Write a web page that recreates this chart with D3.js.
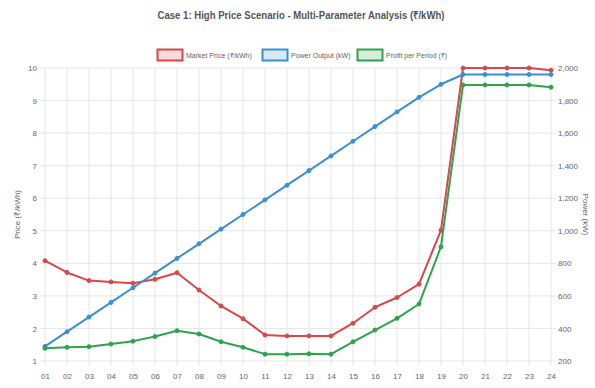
<!DOCTYPE html>
<html>
<head>
<meta charset="utf-8">
<script src="https://cdn.jsdelivr.net/npm/d3@7/dist/d3.min.js"></script>
<style>
  html, body { margin: 0; padding: 0; background: #fff; }
  svg { display: block; font-family: "Liberation Sans", Arial, sans-serif; }
</style>
</head>
<body>
<svg id="chart" width="595" height="388"></svg>
<script>
// Periods along the x axis
const periods = ["01","02","03","04","05","06","07","08","09","10","11","12",
                 "13","14","15","16","17","18","19","20","21","22","23","24"];

// Market price (₹/kWh), left axis
const marketPrice = [4.08, 3.72, 3.47, 3.43, 3.39, 3.51, 3.71, 3.18, 2.69, 2.3, 1.8, 1.77,
                     1.77, 1.77, 2.16, 2.65, 2.95, 3.36, 5.02, 10.0, 10.0, 10.0, 10.0, 9.93];

// Power output (kW), right axis
const powerOutput = [290, 380, 470, 560, 650, 740, 830, 920, 1010, 1100, 1190, 1280,
                     1370, 1460, 1550, 1640, 1730, 1820, 1900, 1960, 1960, 1960, 1960, 1960];

// Profit per period (₹), drawn against the left axis
const profit = [1.39, 1.42, 1.44, 1.52, 1.61, 1.75, 1.93, 1.83, 1.59, 1.42, 1.21, 1.21,
                1.22, 1.21, 1.59, 1.95, 2.31, 2.75, 4.51, 9.48, 9.48, 9.48, 9.48, 9.41];

const leftTicks = [1, 2, 3, 4, 5, 6, 7, 8, 9, 10];
const rightTicks = [200, 400, 600, 800, 1000, 1200, 1400, 1600, 1800, 2000];

const series = [
  { name: "Market Price (₹/kWh)", values: marketPrice, axis: "left",  color: "#d9474b", fill: "rgba(217,71,75,0.2)" },
  { name: "Power Output (kW)",    values: powerOutput, axis: "right", color: "#3b8fd3", fill: "rgba(59,143,211,0.2)" },
  { name: "Profit per Period (₹)", values: profit,     axis: "left",  color: "#2ea34f", fill: "rgba(46,163,79,0.2)" }
];

const svg = d3.select("#chart");
const plot = { left: 45, right: 551, top: 68, bottom: 361 };

const x = d3.scalePoint().domain(periods).range([plot.left, plot.right]);
const yLeft = d3.scaleLinear().domain([1, 10]).range([plot.bottom, plot.top]);
const yRight = d3.scaleLinear().domain([200, 2000]).range([plot.bottom, plot.top]);

const gridColor = "#e6e6e6";
const tickColor = "#666";

// Vertical grid lines at each period
svg.append("g")
  .selectAll("line")
  .data(periods)
  .join("line")
  .attr("x1", d => x(d)).attr("x2", d => x(d))
  .attr("y1", plot.top).attr("y2", plot.bottom + 5)
  .attr("stroke", gridColor).attr("stroke-width", 1);

// Horizontal grid lines from the left axis ticks
svg.append("g")
  .selectAll("line")
  .data(leftTicks)
  .join("line")
  .attr("x1", plot.left - 5).attr("x2", plot.right + 5)
  .attr("y1", d => yLeft(d)).attr("y2", d => yLeft(d))
  .attr("stroke", gridColor).attr("stroke-width", 1);

// Left axis
const leftAxis = svg.append("g")
  .attr("transform", `translate(${plot.left},0)`)
  .call(d3.axisLeft(yLeft).tickValues(leftTicks).tickSize(0).tickPadding(8).tickFormat(d3.format("d")));
leftAxis.select(".domain").remove();
leftAxis.selectAll("text").attr("fill", tickColor).style("font-size", "8px");

// Right axis
const rightAxis = svg.append("g")
  .attr("transform", `translate(${plot.right},0)`)
  .call(d3.axisRight(yRight).tickValues(rightTicks).tickSize(0).tickPadding(7).tickFormat(d3.format(",")));
rightAxis.select(".domain").remove();
rightAxis.selectAll("text").attr("fill", tickColor).style("font-size", "8px");

// Bottom axis
const bottomAxis = svg.append("g")
  .attr("transform", `translate(0,${plot.bottom})`)
  .call(d3.axisBottom(x).tickSize(0).tickPadding(12));
bottomAxis.select(".domain").remove();
bottomAxis.selectAll("text").attr("fill", tickColor).style("font-size", "8px");

// Axis titles
svg.append("text")
  .attr("transform", `translate(20,${(plot.top + plot.bottom) / 2}) rotate(-90)`)
  .attr("text-anchor", "middle")
  .attr("fill", tickColor)
  .style("font-size", "8px")
  .text("Price (₹/kWh)");

svg.append("text")
  .attr("transform", `translate(583,${(plot.top + plot.bottom) / 2}) rotate(90)`)
  .attr("text-anchor", "middle")
  .attr("fill", tickColor)
  .style("font-size", "8px")
  .text("Power (kW)");

// Series lines and points
series.forEach(s => {
  const yScale = s.axis === "left" ? yLeft : yRight;
  const line = d3.line()
    .x((d, i) => x(periods[i]))
    .y(d => yScale(d));
  svg.append("path")
    .datum(s.values)
    .attr("d", line)
    .attr("fill", "none")
    .attr("stroke", s.color)
    .attr("stroke-width", 2)
    .attr("stroke-linejoin", "round");
  svg.append("g")
    .selectAll("circle")
    .data(s.values)
    .join("circle")
    .attr("cx", (d, i) => x(periods[i]))
    .attr("cy", d => yScale(d))
    .attr("r", 2)
    .attr("fill", s.color)
    .attr("stroke", s.color)
    .attr("stroke-width", 1);
});

// Title
svg.append("text")
  .attr("x", 301).attr("y", 19)
  .attr("text-anchor", "middle")
  .attr("fill", "#555")
  .style("font-size", "11px")
  .style("font-weight", "bold")
  .attr("textLength", 287)
  .attr("lengthAdjust", "spacingAndGlyphs")
  .text("Case 1: High Price Scenario - Multi-Parameter Analysis (₹/kWh)");

// Legend
const legendX = [157, 262, 357];
const legend = svg.append("g");
series.forEach((s, i) => {
  const g = legend.append("g").attr("transform", `translate(${legendX[i]},49)`);
  g.append("rect")
    .attr("x", 0.5).attr("y", 0.5)
    .attr("width", 25).attr("height", 11)
    .attr("fill", s.fill)
    .attr("stroke", s.color)
    .attr("stroke-width", 2);
  g.append("text")
    .attr("x", 29).attr("y", 9)
    .attr("fill", tickColor)
    .style("font-size", "7px")
    .text(s.name);
});
</script>
</body>
</html>
